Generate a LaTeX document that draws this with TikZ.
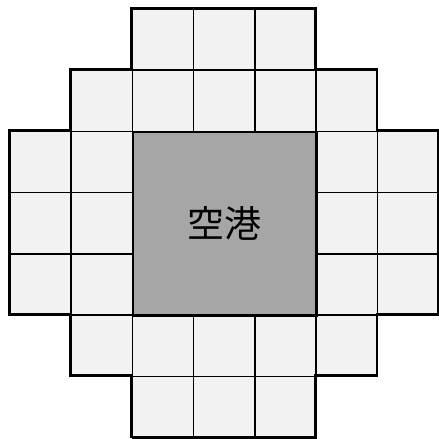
\documentclass[tikz,border=0pt]{standalone}
\usepackage{fontspec}
\newfontfamily\cjkfont{Noto Sans CJK JP}
\definecolor{cellgray}{gray}{0.95}
\definecolor{portgray}{gray}{0.65}

\begin{document}
\begin{tikzpicture}[x=1.4cm, y=-1.4cm,
		cell/.style={draw, line width=1pt, fill=cellgray, minimum size=1.4cm, inner sep=0pt, anchor=north west},
		port/.style={draw, line width=1.6pt, fill=portgray, minimum size=4.2cm, inner sep=0pt, anchor=north west}]
		\useasboundingbox (-0.147,-0.13) rectangle (7.016,7.02);
		% ring of small cells round the airport
		\foreach \c/\r in {2/0,3/0,4/0,
				1/1,2/1,3/1,4/1,5/1,
				0/2,1/2,5/2,6/2,
				0/3,1/3,5/3,6/3,
				0/4,1/4,5/4,6/4,
				1/5,2/5,3/5,4/5,5/5,
				2/6,3/6,4/6}
			\node[cell] (c\c r\r) at (\c,\r) {};
		\node[port] (airport) at (2,2) {};
		\node (airportlabel) at (airport.center) {\cjkfont\fontsize{24}{24}\selectfont 空港};
		% outline
		\draw[line width=1.6pt] (2,0) -- (5,0) -- (5,1) -- (6,1) -- (6,2) -- (7,2) -- (7,5) -- (6,5) -- (6,6) -- (5,6) -- (5,7) -- (2,7) -- (2,6) -- (1,6) -- (1,5) -- (0,5) -- (0,2) -- (1,2) -- (1,1) -- (2,1) -- cycle;
	\end{tikzpicture}
\end{document}
